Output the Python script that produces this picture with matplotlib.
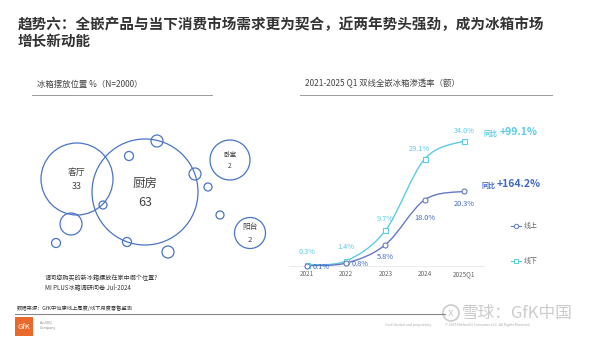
import numpy as np
import matplotlib
matplotlib.use('Agg')
import matplotlib.pyplot as plt
from matplotlib.patches import Circle, Rectangle, PathPatch
from matplotlib.path import Path

plt.rcParams['font.family'] = ['Noto Sans CJK SC', 'DejaVu Sans']

# ---- data ----
years = ['2021', '2022', '2023', '2024', '2025Q1']
online = [0.1, 0.8, 5.8, 18.0, 20.3]
offline = [0.3, 1.4, 9.7, 29.1, 34.0]
yoy_online = '+164.2%'
yoy_offline = '+99.1%'

places = ['客厅', '厨房', '卧室', '阳台']
shares = [33, 63, 2, 2]

# bubble layout (pixel centre x, y, radius, font size)
bubble_layout = [(77, 179, 36, 6.4), (145, 192, 53, 9), (230, 160, 20, 4.8), (250, 233, 15.5, 5.6)]
small_bubbles = [(157, 141, 6), (129, 156, 4.5), (195, 174, 6), (208, 187, 4), (220, 215, 4),
                 (71, 224, 11), (56, 243, 4.5), (127, 242, 4.5), (168, 252, 6), (103, 205, 4)]

C_OFF = '#5CCBE4'
C_ON = '#6678C4'
C_ON_TXT = '#4068C8'
C_CIRC = '#4A74C4'
GREY = '#666666'

fig = plt.figure(figsize=(6, 3.37), dpi=100)
bg = fig.add_axes([0, 0, 1, 1])
bg.set_xlim(0, 600)
bg.set_ylim(337, 0)
bg.axis('off')

# title
bg.text(18, 24, '趋势六：全嵌产品与当下消费市场需求更为契合，近两年势头强劲，成为冰箱市场',
        fontsize=10.5, fontweight='bold', color='#333333', va='center')
bg.text(18, 41, '增长新动能', fontsize=10.5, fontweight='bold', color='#333333', va='center')

# panel headers
bg.text(37, 84, '冰箱摆放位置 %（N=2000）', fontsize=6, color='#444444', va='center')
bg.plot([32, 212], [95, 95], color='#999999', lw=0.7)
bg.text(305, 84, '2021-2025 Q1 双线全嵌冰箱渗透率（额）', fontsize=6, color='#444444', va='center')
bg.plot([300, 552], [95, 95], color='#999999', lw=0.7)

# bubbles
for cx, cy, r in small_bubbles:
    bg.add_patch(Circle((cx, cy), r, fill=False, ec=C_CIRC, lw=0.9))
for name, val, (cx, cy, r, fs) in zip(places, shares, bubble_layout):
    bg.add_patch(Circle((cx, cy), r, fill=False, ec=C_CIRC, lw=0.9))
    bg.text(cx, cy - fs * 1.0, name, fontsize=fs, color='#444444', ha='center', va='center')
    bg.text(cx, cy + fs * 1.2, str(val), fontsize=fs, color='#444444', ha='center', va='center')

bg.text(45, 278, '请问您购买的新冰箱摆放在家中哪个位置?', fontsize=4.4, color='#333333', va='center')
bg.text(45, 287, 'MI PLUS冰箱调研问卷 Jul-2024', fontsize=4.4, color='#333333', va='center')

# footer
bg.text(17, 308, '数据来源：GfK中怡康线上周度/线下月度零售监测', fontsize=3.8, color='#333333', va='center')
bg.plot([15, 445], [314, 314], color='#888888', lw=0.8)
bg.add_patch(Rectangle((15, 317), 18, 19, color='#E8692A', lw=0))
bg.text(24, 327, 'GfK', fontsize=5.5, color='white', ha='center', va='center')
bg.text(40, 322, 'An NIQ', fontsize=2.6, color='#888888', va='center')
bg.text(40, 328, 'Company', fontsize=2.6, color='#888888', va='center')
bg.text(385, 325, 'Confidential and proprietary', fontsize=2.5, color='#aaaaaa', va='center')
bg.text(445, 325, '© 2025 NielsenIQ Consumer LLC. All Rights Reserved.', fontsize=2.5, color='#aaaaaa', va='center')
bg.add_patch(Circle((451, 313), 8, fill=False, ec='#cccccc', lw=1.2))
bg.text(451, 313, 'x', fontsize=8, color='#cccccc', ha='center', va='center')
bg.text(462, 313, '雪球：GfK中国', fontsize=12, color='#cccccc', va='center')

# ---- line chart ----
ax = fig.add_axes([289.3 / 600, 1 - 266 / 337, 194.3 / 600, 38 * 3.68 / 337])
ax.set_xlim(-0.45, 4.5)
ax.set_ylim(0, 38)
for s in ['top', 'right', 'left']:
    ax.spines[s].set_visible(False)
ax.spines['bottom'].set_color('#e6e6e6')
ax.spines['bottom'].set_linewidth(0.6)
ax.set_yticks([])
ax.set_xticks(range(len(years)))
ax.set_xticklabels(years, fontsize=4.6, color=GREY)
ax.tick_params(axis='x', length=0, pad=3)
ax.patch.set_alpha(0)

xs = np.arange(len(years))


def smooth_path(x, y):
    p = np.column_stack([x, y]).astype(float)
    verts = [p[0]]
    codes = [Path.MOVETO]
    n = len(p)
    for i in range(n - 1):
        p0 = p[max(i - 1, 0)]
        p3 = p[min(i + 2, n - 1)]
        c1 = p[i] + (p[i + 1] - p0) / 6
        c2 = p[i + 1] - (p3 - p[i]) / 6
        verts += [c1, c2, p[i + 1]]
        codes += [Path.CURVE4] * 3
    return Path(verts, codes)


ax.add_patch(PathPatch(smooth_path(xs, offline), fill=False, ec=C_OFF, lw=1.0, clip_on=False))
ax.add_patch(PathPatch(smooth_path(xs, online), fill=False, ec=C_ON, lw=1.0, clip_on=False))
ax.plot(xs, offline, ls='none', marker='s', ms=3.6, mfc='white', mec=C_OFF, mew=0.8, clip_on=False, zorder=5)
ax.plot(xs, online, ls='none', marker='o', ms=3.6, mfc='white', mec=C_ON, mew=0.8, clip_on=False, zorder=5)

# data labels
off_off = [(0, 9), (0, 10), (0, 8), (-4, 7), (0, 7)]
on_off = [(10, -1), (10, -1), (0, -9), (0, -13), (0, -9)]
for i in range(len(years)):
    ax.annotate(f'{offline[i]:.1f}%', (xs[i], offline[i]), xytext=off_off[i], textcoords='offset points',
                ha='center', va='center', fontsize=5.3, color=C_OFF)
    ax.annotate(f'{online[i]:.1f}%', (xs[i], online[i]), xytext=on_off[i], textcoords='offset points',
                ha='center', va='center', fontsize=5.3, color=C_ON_TXT)

# yoy callouts
bg.text(484, 133, '同比', fontsize=5, color=C_OFF, fontweight='bold', va='center')
bg.text(500, 132, yoy_offline, fontsize=7.5, color=C_OFF, fontweight='bold', va='center')
bg.text(482, 185, '同比', fontsize=5, color=C_ON_TXT, fontweight='bold', va='center')
bg.text(497, 184, yoy_online, fontsize=7.5, color=C_ON_TXT, fontweight='bold', va='center')

# legend
bg.plot([511, 521], [226, 226], color=C_ON, lw=0.8)
bg.plot([516], [226], marker='o', ms=3.2, mfc='white', mec=C_ON, mew=0.7)
bg.text(524, 226, '线上', fontsize=5, color=GREY, va='center')
bg.plot([511, 521], [261, 261], color=C_OFF, lw=0.8)
bg.plot([516], [261], marker='s', ms=3.2, mfc='white', mec=C_OFF, mew=0.7)
bg.text(524, 261, '线下', fontsize=5, color=GREY, va='center')

fig.savefig('out.png', dpi=100)
